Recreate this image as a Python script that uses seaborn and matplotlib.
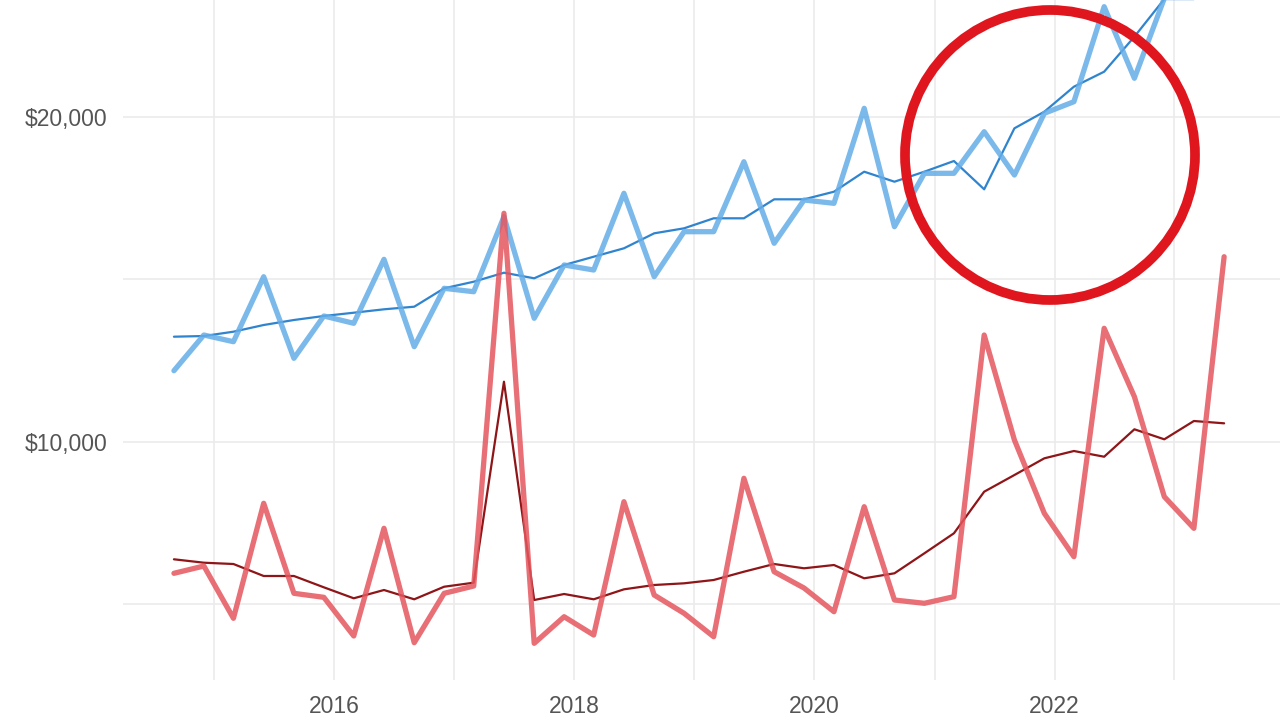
import pandas as pd
import matplotlib.pyplot as plt
import matplotlib.dates as mdates
from matplotlib.patches import Ellipse
from matplotlib.ticker import FixedLocator, FuncFormatter
import seaborn as sns

# quarterly observations
quarters = pd.date_range("2014-09-01", periods=36, freq="3MS")

blue_raw = [12185, 13283, 13077, 15077, 12566, 13868, 13643, 15612, 12923, 14720,
            14615, 16923, 13797, 15437, 15283, 17643, 15077, 16462, 16462, 18615,
            16105, 17437, 17335, 20258, 16615, 18258, 18258, 19538, 18206, 20105,
            20462, 23385, 21182, 23640, 23640, 24800]
blue_trend = [13231, 13252, 13385, 13591, 13745, 13868, 13969, 14074, 14154, 14720,
              14923, 15200, 15028, 15437, 15692, 15951, 16412, 16566, 16874, 16874,
              17458, 17458, 17692, 18308, 18000, 18308, 18637, 17766, 19643, 20154,
              20923, 21385, 22462, 23620, 23620, 24600]
red_raw = [5951, 6175, 4566, 8105, 5335, 5212, 4022, 7335, 3815, 5335,
           5560, 17028, 3797, 4615, 4052, 8154, 5283, 4720, 4000, 8874,
           6000, 5498, 4769, 8000, 5129, 5028, 5231, 13283, 10052, 7797,
           6462, 13489, 11385, 8308, 7335, 15692]
red_trend = [6382, 6277, 6237, 5868, 5868, 5520, 5182, 5437, 5151, 5538,
             5662, 11846, 5129, 5314, 5151, 5458, 5591, 5643, 5745, 6000,
             6237, 6105, 6206, 5797, 5951, 6566, 7182, 8462, 8975, 9489,
             9714, 9538, 10382, 10074, 10637, 10566]

year_ticks = [pd.Timestamp(f"{y}-01-01") for y in range(2015, 2024)]
y_ticks = [5000, 10000, 15000, 20000]
y_labels = {10000: "$10,000", 20000: "$20,000"}

sns.set_theme(style="whitegrid")
plt.rcParams["font.family"] = ["Liberation Sans", "DejaVu Sans"]

fig = plt.figure(figsize=(12.8, 7.2), dpi=100)
ax = fig.add_axes([123 / 1280, 40 / 720, 1157 / 1280, 680 / 720])

sns.lineplot(x=quarters, y=blue_trend, color="#2f84cf", linewidth=1.6, ax=ax)
sns.lineplot(x=quarters, y=blue_raw, color="#64ade8", linewidth=3.8, alpha=0.85, ax=ax)
sns.lineplot(x=quarters, y=red_trend, color="#8e1518", linewidth=1.6, ax=ax)
sns.lineplot(x=quarters, y=red_raw, color="#e4565d", linewidth=3.8, alpha=0.85, ax=ax)

ax.set_xlim(pd.Timestamp("2014-03-30"), pd.Timestamp("2023-11-18"))
ax.set_ylim(2668, 23591)

ax.xaxis.set_major_locator(FixedLocator(mdates.date2num(year_ticks)))
ax.xaxis.set_major_formatter(FuncFormatter(
    lambda v, _: str(mdates.num2date(v).year) if mdates.num2date(v).year % 2 == 0 else ""))
ax.yaxis.set_major_locator(FixedLocator(y_ticks))
ax.yaxis.set_major_formatter(FuncFormatter(lambda v, _: y_labels.get(int(round(v)), "")))

ax.grid(True, color="#ebebeb", linewidth=1.2)
ax.tick_params(axis="both", length=0, labelsize=16.5, labelcolor="#555555")
ax.tick_params(axis="x", pad=11)
ax.tick_params(axis="y", pad=11)
ax.set_xlabel("")
ax.set_ylabel("")
for s in ax.spines.values():
    s.set_visible(False)

# highlight ring
ring = Ellipse((1050 / 1280, 1 - 155 / 720), 290 / 1280, 290 / 720,
               transform=fig.transFigure, fill=False, edgecolor="#e0161f", linewidth=7)
fig.add_artist(ring)

fig.savefig("out.png", dpi=100)
plt.close(fig)
